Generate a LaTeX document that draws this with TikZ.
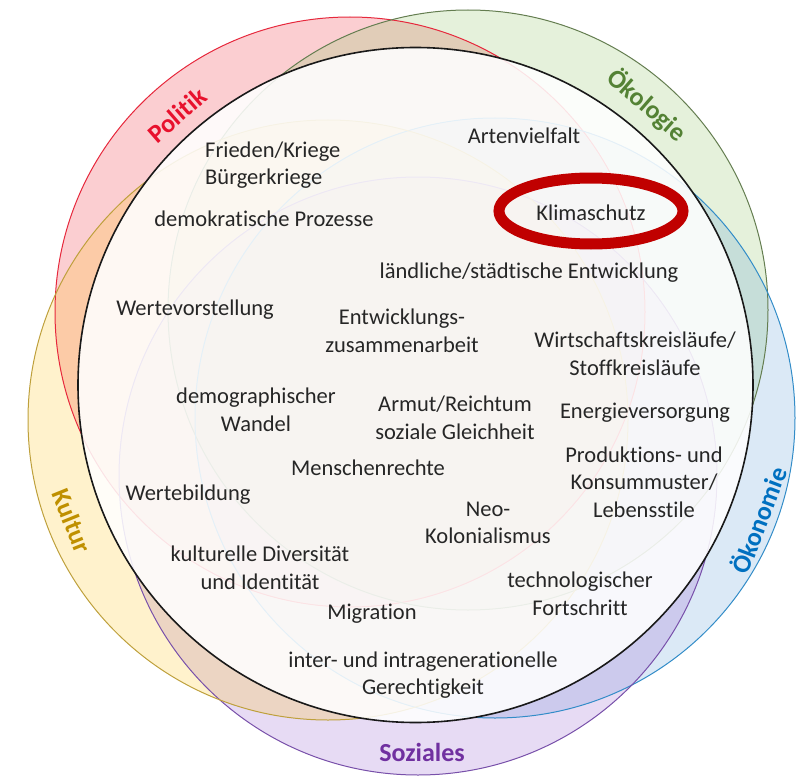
\documentclass[tikz,border=0pt]{standalone}
\usepackage{fontspec}
\setmainfont{Carlito}[Ligatures=NoCommon]
\definecolor{polred}{RGB}{232,17,45}
\definecolor{oekgreen}{RGB}{84,130,53}
\definecolor{oekblue}{RGB}{0,112,192}
\definecolor{sozpurple}{RGB}{112,48,160}
\definecolor{kulgold}{RGB}{191,144,0}
\definecolor{ringred}{RGB}{192,0,0}
\definecolor{txt}{RGB}{38,38,38}
\tikzset{
  item/.style={font=\fontsize{22.5}{27.5}\selectfont, align=center, text=txt, inner sep=0pt},
  dimlabel/.style={font=\bfseries\fontsize{26}{30}\selectfont, inner sep=0pt},
  sphere/.style={line width=1.0pt},
}
\begin{document}
\begin{tikzpicture}[x=1pt,y=-1pt]
\useasboundingbox (0,0) rectangle (796,776);
% dimension circles
\fill[fill={rgb,255:red,240;green,80;blue,90}, fill opacity=0.28] (350,312) circle[radius=295pt];
\fill[fill={rgb,255:red,150;green,200;blue,110}, fill opacity=0.25] (468,310) circle[radius=300pt];
\fill[fill={rgb,255:red,91;green,155;blue,213}, fill opacity=0.22] (495,418) circle[radius=300pt];
\fill[fill={rgb,255:red,160;green,110;blue,210}, fill opacity=0.25] (418,476) circle[radius=299pt];
\fill[fill={rgb,255:red,255;green,192;blue,0}, fill opacity=0.20] (328,420) circle[radius=300pt];
\draw[sphere, draw={rgb,255:red,230;green,40;blue,60}] (350,312) circle[radius=295pt];
\draw[sphere, draw={rgb,255:red,100;green,125;blue,80}] (468,310) circle[radius=300pt];
\draw[sphere, draw={rgb,255:red,50;green,140;blue,200}] (495,418) circle[radius=300pt];
\draw[sphere, draw={rgb,255:red,120;green,80;blue,170}] (418,476) circle[radius=299pt];
\draw[sphere, draw={rgb,255:red,190;green,160;blue,60}] (328,420) circle[radius=300pt];
% main circle
\fill[white, fill opacity=0.87] (415.5,385) circle[radius=337.5pt];
\draw[line width=1.6pt, black!90] (415.5,385) circle[radius=337.5pt];
% dimension labels
\node[dimlabel, text=polred, rotate=41] (politik) at (177,115) {Politik};
\node[dimlabel, text=oekgreen, rotate=-41] (oekologie) at (647,105) {Ökologie};
\node[dimlabel, text=oekblue, rotate=69] (oekonomie) at (758,520) {Ökonomie};
\node[dimlabel, text=sozpurple] (soziales) at (422,752) {Soziales};
\node[dimlabel, text=kulgold, rotate=-68] (kultur) at (72,521) {Kultur};
% ring around Klimaschutz
\draw[line width=11pt, ringred] (591,211) ellipse[x radius=92pt, y radius=33pt];
% topics
\node[item] (arten) at (524,136) {Artenvielfalt};
\node[item, align=left, anchor=west] (frieden) at (205,165) {Frieden/Kriege\\Bürgerkriege};
\node[item] (demo) at (264,219) {demokratische Prozesse};
\node[item] (klima) at (591,213) {Klimaschutz};
\node[item] (laendlich) at (529,273) {ländliche/städtische Entwicklung};
\node[item] (wertevor) at (195,310) {Wertevorstellung};
\node[item] (entw) at (402,331) {Entwicklungs-\\zusammenarbeit};
\node[item] (wirtschaft) at (635,354) {Wirtschaftskreisläufe/\\Stoffkreisläufe};
\node[item] (demogr) at (256,410) {demographischer\\Wandel};
\node[item] (armut) at (455,418) {Armut/Reichtum\\soziale Gleichheit};
\node[item] (energie) at (645,413) {Energieversorgung};
\node[item] (produktion) at (644,482) {Produktions- und\\Konsummuster/\\Lebensstile};
\node[item] (menschen) at (368,468) {Menschenrechte};
\node[item] (wertebild) at (188,495) {Wertebildung};
\node[item] (neo) at (488,523) {Neo-\\Kolonialismus};
\node[item] (kulturell) at (260,568) {kulturelle Diversität\\und Identität};
\node[item] (techno) at (580,594) {technologischer\\Fortschritt};
\node[item] (migration) at (372,614) {Migration};
\node[item] (generation) at (423,675) {inter- und intragenerationelle\\Gerechtigkeit};
\end{tikzpicture}
\end{document}
